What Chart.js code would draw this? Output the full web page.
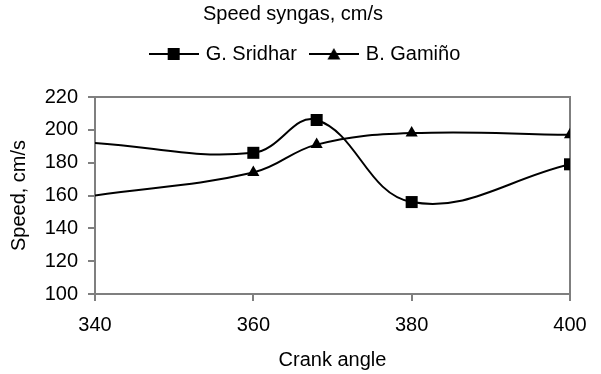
<!DOCTYPE html>
<html>
<head>
<meta charset="utf-8">
<title>Speed syngas</title>
<script src="https://cdn.jsdelivr.net/npm/chart.js@4.4.1/dist/chart.umd.min.js"></script>
<style>
  html, body { margin: 0; padding: 0; background: #ffffff; }
  #wrap { width: 601px; height: 374px; }
</style>
</head>
<body>
<div id="wrap"><canvas id="speedChart" width="601" height="374"></canvas></div>
<script>
// crank angle (deg) and gas speed (cm/s)
const angles = [340, 360, 368, 380, 400];
const sridhar = [192, 186, 206, 156, 179];
const gamino = [160, 174, 191, 198, 197];
const xTicks = [340, 360, 380, 400];
const yTicks = [100, 120, 140, 160, 180, 200, 220];

const FONT = "'Liberation Sans', Arial, sans-serif";
const AXIS_GREY = '#7f7f7f';

// line + marker icon used in the legend
function legendIcon(shape) {
  const c = document.createElement('canvas');
  c.width = 50;
  c.height = 16;
  const g = c.getContext('2d');
  g.strokeStyle = '#000';
  g.fillStyle = '#000';
  g.lineWidth = 2;
  g.beginPath();
  g.moveTo(0, 8);
  g.lineTo(50, 8);
  g.stroke();
  g.beginPath();
  if (shape === 'rect') {
    g.rect(19, 2, 12, 12);
  } else {
    g.moveTo(25, 2);
    g.lineTo(31.5, 13.5);
    g.lineTo(18.5, 13.5);
    g.closePath();
  }
  g.fill();
  return c;
}
const icons = { rect: legendIcon('rect'), triangle: legendIcon('triangle') };

function points(ys) {
  return angles.map((a, i) => ({ x: a, y: ys[i] }));
}

// the first point sits on the left edge and carries no marker
const markerSizes = angles.map((a, i) => (i === 0 ? 0 : 1));

// nudge the title and legend sideways after layout
const headerShift = {
  id: 'headerShift',
  afterLayout(chart) {
    const t = chart.titleBlock;
    if (t) { t.left -= 11; t.right -= 11; }
    const l = chart.legend;
    if (l) { l.left += 2; l.right += 2; }
  }
};

new Chart(document.getElementById('speedChart').getContext('2d'), {
  type: 'line',
  data: {
    datasets: [{
      label: 'G. Sridhar',
      data: points(sridhar),
      borderColor: '#000',
      backgroundColor: '#000',
      borderWidth: 2,
      tension: 0.4,
      pointStyle: 'rect',
      pointRadius: markerSizes.map(m => m * 8.5),
      pointBorderWidth: 0
    }, {
      label: 'B. Gamiño',
      data: points(gamino),
      borderColor: '#000',
      backgroundColor: '#000',
      borderWidth: 2,
      tension: 0.4,
      pointStyle: 'triangle',
      pointRadius: markerSizes.map(m => m * 7),
      pointBorderWidth: 0
    }]
  },
  plugins: [headerShift],
  options: {
    responsive: false,
    animation: false,
    layout: { padding: { left: 7, right: 0, top: 0, bottom: 0 } },
    plugins: {
      title: {
        display: true,
        text: 'Speed syngas, cm/s',
        color: '#000',
        font: { family: FONT, size: 20, weight: 'normal' },
        padding: { top: 2, bottom: 3 }
      },
      legend: {
        position: 'top',
        labels: {
          color: '#000',
          font: { family: FONT, size: 20 },
          usePointStyle: true,
          pointStyleWidth: 44,
          padding: 15,
          generateLabels(chart) {
            const items = Chart.defaults.plugins.legend.labels.generateLabels(chart);
            items.forEach(it => { it.pointStyle = icons[chart.data.datasets[it.datasetIndex].pointStyle]; });
            return items;
          }
        }
      },
      tooltip: { enabled: false }
    },
    scales: {
      x: {
        type: 'linear',
        position: 'bottom',
        min: 340,
        max: 400,
        afterBuildTicks: s => { s.ticks = xTicks.map(v => ({ value: v })); },
        afterFit: s => { s.height = 80; },
        ticks: { color: '#000', font: { family: FONT, size: 20 }, padding: 12, maxRotation: 0 },
        grid: { drawOnChartArea: false, drawTicks: true, tickLength: 7, color: AXIS_GREY, lineWidth: 2 },
        border: { display: true, color: AXIS_GREY, width: 2 },
        title: {
          display: true,
          text: 'Crank angle',
          color: '#000',
          font: { family: FONT, size: 20 },
          padding: { top: 0, bottom: 2 }
        }
      },
      y: {
        type: 'linear',
        position: 'left',
        min: 100,
        max: 220,
        afterBuildTicks: s => { s.ticks = yTicks.map(v => ({ value: v })); },
        afterFit: s => { s.width = 88; },
        ticks: { color: '#000', font: { family: FONT, size: 20 }, padding: 10 },
        grid: { drawOnChartArea: false, drawTicks: true, tickLength: 7, color: AXIS_GREY, lineWidth: 2 },
        border: { display: true, color: AXIS_GREY, width: 2 },
        title: {
          display: true,
          text: 'Speed, cm/s',
          color: '#000',
          font: { family: FONT, size: 20 },
          padding: { top: 0, bottom: 0 }
        }
      },
      // top and right edges of the plot frame
      xTop: {
        type: 'linear',
        position: 'top',
        min: 340,
        max: 400,
        afterFit: s => { s.height = 23; },
        ticks: { display: false },
        grid: { display: false },
        border: { display: true, color: AXIS_GREY, width: 2 }
      },
      yRight: {
        type: 'linear',
        position: 'right',
        min: 100,
        max: 220,
        afterFit: s => { s.width = 31; },
        ticks: { display: false },
        grid: { display: false },
        border: { display: true, color: AXIS_GREY, width: 2 }
      }
    }
  }
});
</script>
</body>
</html>
